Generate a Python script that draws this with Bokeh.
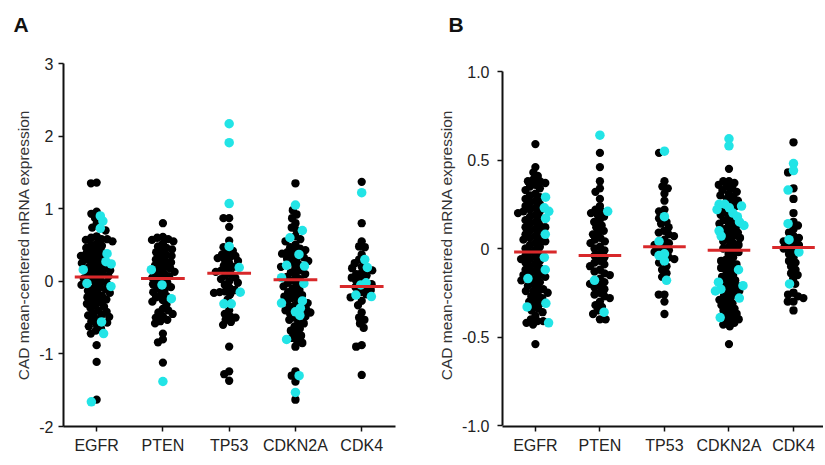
import math
from bokeh.plotting import figure
from bokeh.models import Range1d, FixedTicker
from bokeh.layouts import row
from bokeh.embed import file_html
from bokeh.resources import INLINE

genes = ["EGFR", "PTEN", "TP53", "CDKN2A", "CDK4"]

# ---------------- Panel A data ----------------
a_egfr_black = [1.36, 1.35, 0.96, 0.93, 0.87, 0.79, 0.74, 0.70, 0.62, 0.60, 0.58, 0.58, 0.57, 0.55, 0.52,
                0.50, 0.49, 0.46, 0.44, 0.42, 0.40, 0.38, 0.36, 0.35, 0.34, 0.32, 0.30, 0.28, 0.26, 0.25,
                0.22, 0.20, 0.19, 0.17, 0.15, 0.14, 0.12, 0.10, 0.09, 0.07, 0.05, 0.04, 0.02, 0.00, -0.02,
                -0.03, -0.05, -0.08, -0.10, -0.11, -0.13, -0.15, -0.16, -0.18, -0.20, -0.22, -0.23, -0.25,
                -0.27, -0.29, -0.31, -0.33, -0.35, -0.37, -0.40, -0.42, -0.45, -0.46, -0.47, -0.49, -0.52,
                -0.55, -0.57, -0.60, -0.62, -0.65, -0.68, -0.72, -0.88, -1.11, -1.63]
a_egfr_cyan = [0.90, 0.83, 0.73, 0.38, 0.27, 0.24, 0.16, -0.03, -0.07, -0.56, -0.72, -1.66]

a_pten_black = [0.80, 0.61, 0.60, 0.58, 0.57, 0.55, 0.52, 0.48, 0.46, 0.44, 0.42, 0.40, 0.37, 0.35, 0.33,
                0.30, 0.28, 0.26, 0.25, 0.22, 0.20, 0.18, 0.16, 0.13, 0.11, 0.09, 0.07, 0.05, 0.03, 0.01,
                -0.02, -0.04, -0.08, -0.10, -0.12, -0.15, -0.18, -0.20, -0.22, -0.26, -0.28, -0.32, -0.38,
                -0.40, -0.43, -0.45, -0.48, -0.50, -0.53, -0.55, -0.58, -0.72, -0.80, -0.84, -1.12]
a_pten_cyan = [0.16, -0.05, -0.24, -1.38]

a_tp53_black = [0.87, 0.87, 0.75, 0.56, 0.47, 0.42, 0.40, 0.37, 0.35, 0.33, 0.32, 0.30, 0.28, 0.25, 0.22,
                0.20, 0.17, 0.15, 0.13, 0.10, 0.08, 0.05, 0.03, 0.00, -0.02, -0.05, -0.09, -0.12, -0.14,
                -0.15, -0.16, -0.18, -0.25, -0.40, -0.45, -0.48, -0.50, -0.53, -0.56, -0.60, -0.90, -1.24,
                -1.28, -1.37]
a_tp53_cyan = [2.17, 1.91, 1.07, 0.48, 0.19, -0.15, -0.31, -0.31]

a_cdkn2a_black = [1.35, 0.98, 0.92, 0.87, 0.80, 0.74, 0.70, 0.62, 0.58, 0.55, 0.50, 0.47, 0.45, 0.43, 0.42,
                  0.40, 0.38, 0.35, 0.33, 0.31, 0.30, 0.28, 0.26, 0.23, 0.20, 0.17, 0.15, 0.12, 0.10, 0.08,
                  0.06, 0.03, 0.01, -0.02, -0.05, -0.07, -0.10, -0.12, -0.15, -0.17, -0.19, -0.21, -0.23,
                  -0.25, -0.28, -0.30, -0.33, -0.35, -0.38, -0.40, -0.43, -0.45, -0.48, -0.50, -0.53, -0.56,
                  -0.58, -0.62, -0.65, -0.68, -0.72, -0.75, -0.78, -0.82, -0.85, -0.90, -1.24, -1.30, -1.38,
                  -1.63]
a_cdkn2a_cyan = [1.05, 0.70, 0.60, 0.37, 0.22, 0.21, 0.05, -0.03, -0.27, -0.30, -0.37, -0.42, -0.47, -0.80,
                 -1.30, -1.53]

a_cdk4_black = [1.37, 0.80, 0.55, 0.48, 0.47, 0.37, 0.30, 0.25, 0.20, 0.18, 0.15, 0.12, 0.10, 0.08, 0.05,
                0.03, 0.00, -0.04, -0.08, -0.10, -0.12, -0.15, -0.18, -0.22, -0.27, -0.33, -0.43, -0.50,
                -0.53, -0.58, -0.64, -0.88, -0.90, -1.29]
a_cdk4_cyan = [1.22, 0.30, 0.19, -0.02, -0.05, -0.19, -0.21]

a_means = [0.06, 0.04, 0.11, 0.02, -0.07]

# ---------------- Panel B data ----------------
b_egfr_black = [0.59, 0.46, 0.43, 0.41, 0.39, 0.38, 0.38, 0.37, 0.36, 0.35, 0.34, 0.33, 0.31, 0.30, 0.29,
                0.28, 0.27, 0.26, 0.25, 0.24, 0.23, 0.22, 0.21, 0.21, 0.20, 0.19, 0.18, 0.17, 0.16, 0.15,
                0.14, 0.13, 0.12, 0.12, 0.11, 0.10, 0.09, 0.08, 0.07, 0.06, 0.05, 0.05, 0.04, 0.03, 0.02,
                0.01, 0.00, -0.01, -0.02, -0.03, -0.04, -0.05, -0.06, -0.06, -0.07, -0.08, -0.09, -0.10,
                -0.11, -0.12, -0.13, -0.14, -0.15, -0.15, -0.16, -0.17, -0.18, -0.19, -0.20, -0.21, -0.22,
                -0.23, -0.24, -0.24, -0.25, -0.26, -0.27, -0.28, -0.29, -0.30, -0.31, -0.32, -0.34, -0.35,
                -0.36, -0.38, -0.40, -0.41, -0.41, -0.42, -0.43, -0.54]
b_egfr_cyan = [0.29, 0.23, 0.21, 0.17, 0.08, -0.05, -0.12, -0.17, -0.31, -0.33, -0.42]

b_pten_black = [0.54, 0.46, 0.38, 0.34, 0.32, 0.28, 0.24, 0.22, 0.21, 0.20, 0.19, 0.18, 0.16, 0.15, 0.13,
                0.12, 0.10, 0.09, 0.08, 0.06, 0.05, 0.04, 0.03, 0.01, 0.00, -0.01, -0.03, -0.04, -0.05,
                -0.07, -0.08, -0.09, -0.10, -0.12, -0.13, -0.14, -0.15, -0.17, -0.19, -0.20, -0.21, -0.22,
                -0.23, -0.25, -0.26, -0.27, -0.28, -0.30, -0.32, -0.33, -0.35, -0.37, -0.40, -0.40]
b_pten_cyan = [0.64, 0.21, -0.18, -0.36]

b_tp53_black = [0.54, 0.38, 0.35, 0.34, 0.31, 0.27, 0.22, 0.21, 0.17, 0.15, 0.14, 0.12, 0.10, 0.09, 0.08,
                0.07, 0.05, 0.03, 0.02, 0.01, 0.00, -0.01, -0.02, -0.05, -0.06, -0.08, -0.10, -0.12, -0.14,
                -0.16, -0.26, -0.26, -0.30, -0.37]
b_tp53_cyan = [0.55, 0.18, 0.04, -0.03, -0.04, -0.07, -0.18]

b_cdkn2a_black = [0.45, 0.38, 0.38, 0.37, 0.36, 0.35, 0.34, 0.33, 0.32, 0.31, 0.30, 0.29, 0.28, 0.27, 0.26,
                  0.24, 0.22, 0.20, 0.19, 0.17, 0.16, 0.15, 0.14, 0.13, 0.12, 0.11, 0.10, 0.09, 0.08, 0.07,
                  0.06, 0.05, 0.04, 0.03, 0.02, 0.01, 0.00, -0.01, -0.02, -0.03, -0.05, -0.06, -0.07, -0.08,
                  -0.09, -0.10, -0.11, -0.12, -0.14, -0.15, -0.16, -0.17, -0.18, -0.19, -0.20, -0.21, -0.22,
                  -0.23, -0.24, -0.25, -0.26, -0.27, -0.28, -0.29, -0.30, -0.31, -0.32, -0.33, -0.34, -0.35,
                  -0.36, -0.37, -0.38, -0.39, -0.40, -0.41, -0.42, -0.43, -0.44, -0.54]
b_cdkn2a_cyan = [0.62, 0.58, 0.25, 0.25, 0.24, 0.23, 0.22, 0.20, 0.18, 0.15, 0.13, 0.10, 0.07, -0.12, -0.19,
                 -0.21, -0.23, -0.24, -0.28, -0.39]

b_cdk4_black = [0.60, 0.43, 0.34, 0.28, 0.20, 0.15, 0.13, 0.11, 0.09, 0.07, 0.06, 0.04, 0.03, 0.02, 0.01,
                0.00, -0.01, -0.03, -0.05, -0.07, -0.08, -0.10, -0.12, -0.14, -0.15, -0.17, -0.20, -0.25,
                -0.26, -0.27, -0.28, -0.30, -0.30, -0.35]
b_cdk4_cyan = [0.48, 0.44, 0.33, 0.14, 0.05, -0.02, -0.20]

b_means = [-0.02, -0.04, 0.01, -0.01, 0.005]

a_black = [a_egfr_black, a_pten_black, a_tp53_black, a_cdkn2a_black, a_cdk4_black]
a_cyan = [a_egfr_cyan, a_pten_cyan, a_tp53_cyan, a_cdkn2a_cyan, a_cdk4_cyan]
b_black = [b_egfr_black, b_pten_black, b_tp53_black, b_cdkn2a_black, b_cdk4_black]
b_cyan = [b_egfr_cyan, b_pten_cyan, b_tp53_cyan, b_cdkn2a_cyan, b_cdk4_cyan]

a_yticks = [-2, -1, 0, 1, 2, 3]
a_ylabels = ["-2", "-1", "0", "1", "2", "3"]
b_yticks = [-1.0, -0.5, 0.0, 0.5, 1.0]
b_ylabels = ["-1.0", "-0.5", "0", "0.5", "1.0"]

BLACK = "#000000"
CYAN = "#22e4e6"
RED = "#d8282a"
FONT = "Liberation Sans"

FIG_H = 460
FRAME_TOP = 63
FRAME_BOTTOM = 426


def swarm(vals, yscale, d):
    """Beeswarm offsets (pixels) for values, given pixel-per-unit y scale."""
    order = sorted(range(len(vals)), key=lambda i: -vals[i])
    placed = []
    xs = [0.0] * len(vals)
    for i in order:
        y = vals[i] * yscale
        near = [(px, py) for px, py in placed if abs(py - y) < d]
        cands = [0.0]
        for px, py in near:
            dx = math.sqrt(d * d - (py - y) ** 2)
            cands += [px + dx, px - dx]
        cands.sort(key=lambda c: (abs(c), c))
        x = 0.0
        for c in cands:
            if all((c - px) ** 2 + (y - py) ** 2 >= d * d - 1e-6 for px, py in near):
                x = c
                break
        placed.append((x, y))
        xs[i] = x
    return xs


def make_panel(black, cyan, means, yticks, ylabels, yr, ybounds, xr, width, mb_left, mb_right,
               letter, letter_offset, tick_standoff, label_standoff):
    p = figure(width=width, height=FIG_H, output_backend="svg", toolbar_location=None,
               x_range=Range1d(*xr), y_range=Range1d(*yr),
               min_border_left=mb_left, min_border_right=mb_right,
               min_border_top=FRAME_TOP, min_border_bottom=FIG_H - FRAME_BOTTOM,
               title=letter + "\n ")
    p.outline_line_color = None
    p.grid.visible = False
    p.background_fill_color = "white"
    frame_h = FRAME_BOTTOM - FRAME_TOP
    frame_w = width - mb_left - mb_right
    yscale = frame_h / (yr[1] - yr[0])
    xscale = frame_w / (xr[1] - xr[0])
    d = 5.7
    for i in range(len(genes)):
        vals = list(black[i]) + list(cyan[i])
        cols = ["b"] * len(black[i]) + ["c"] * len(cyan[i])
        offs = swarm(vals, yscale, d)
        bx = [i + o / xscale for o, c in zip(offs, cols) if c == "b"]
        by = [v for v, c in zip(vals, cols) if c == "b"]
        cx = [i + o / xscale for o, c in zip(offs, cols) if c == "c"]
        cy = [v for v, c in zip(vals, cols) if c == "c"]
        p.scatter(bx, by, size=8.3, fill_color=BLACK, line_color=None)
        p.scatter(cx, cy, size=9.5, fill_color=CYAN, line_color=None)
    xs = list(range(len(genes)))
    p.segment(x0=[x - 0.33 for x in xs], x1=[x + 0.33 for x in xs], y0=means, y1=means,
              line_color=RED, line_width=3)

    p.xaxis.ticker = FixedTicker(ticks=xs)
    p.xaxis.major_label_overrides = {x: g for x, g in zip(xs, genes)}
    p.yaxis.ticker = FixedTicker(ticks=yticks)
    p.yaxis.major_label_overrides = {t: l for t, l in zip(yticks, ylabels)}
    p.yaxis.bounds = ybounds
    for ax in (p.xaxis, p.yaxis):
        ax.axis_line_width = 2
        ax.axis_line_color = "#111111"
        ax.major_tick_line_width = 1.5
        ax.major_tick_line_color = "#111111"
        ax.major_tick_out = 5
        ax.major_tick_in = 0
        ax.minor_tick_line_color = None
        ax.major_label_text_font = FONT
        ax.major_label_text_font_size = "16px"
        ax.major_label_text_color = "#222222"
    p.xaxis.major_label_standoff = 5
    p.yaxis.major_label_standoff = tick_standoff
    p.yaxis.axis_label = "CAD mean-centered mRNA expression"
    p.yaxis.axis_label_text_font = FONT
    p.yaxis.axis_label_text_font_size = "15.5px"
    p.yaxis.axis_label_text_font_style = "normal"
    p.yaxis.axis_label_text_color = "#333333"
    p.yaxis.axis_label_standoff = label_standoff

    # panel letter as a left-aligned title pulled out over the axis area
    p.title.align = "left"
    p.title.offset = letter_offset
    p.title.standoff = 10
    p.title.text_font = FONT
    p.title.text_font_size = "21px"
    p.title.text_font_style = "bold"
    p.title.text_color = "#111111"
    return p


# B: 1.0 sits 8 px below the frame top and -1.0 one px above the frame bottom (177 px per unit)
pA = make_panel(a_black, a_cyan, a_means, a_yticks, a_ylabels, (-2, 3), (-2, 3), (-0.5, 4.51), 413,
                63, 18, "A", -50, 5, 4)
pB = make_panel(b_black, b_cyan, b_means, b_yticks, b_ylabels, (-1.0 - 1 / 177, 1.0 + 8 / 177), (-1.0, 1.0),
                (-0.51, 4.465), 410, 89, 0, "B", -54, 8, 4)

layout = row(pA, pB)
open("out.html", "w").write(file_html(layout, INLINE))
